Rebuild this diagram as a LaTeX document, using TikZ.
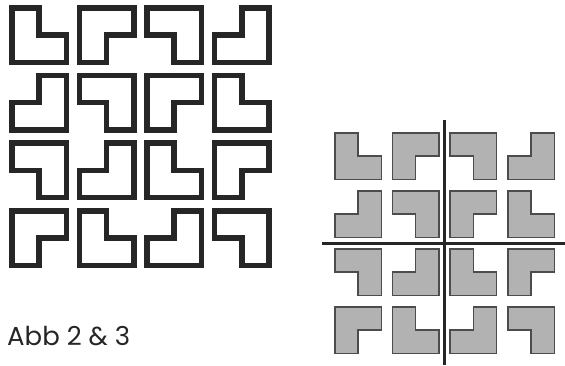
\documentclass[tikz,border=0pt]{standalone}
\usepackage{fontspec}
\newfontfamily\abbfont{Poppins}
\begin{document}
\begin{tikzpicture}[
        x=1pt, y=-1pt,
        framepiece/.style={draw=black!85, line width=5.5pt, line join=miter},
        graypiece/.style={draw=black!70, fill=black!30, line width=1.5pt, line join=miter},
        crossline/.style={draw=black!85, line width=3pt},
        abbtext/.style={anchor=base west, inner sep=0pt, text=black!85, font=\abbfont\fontsize{26}{30}\selectfont},
    ]
    \useasboundingbox (0,0) rectangle (565,365);

    % left grid, open pieces
    \foreach \ang [count=\i from 0] in {0,270,180,90, 90,180,270,0, 180,90,0,270, 270,0,90,180}{
        \pgfmathtruncatemacro{\col}{mod(\i,4)}
        \pgfmathtruncatemacro{\row}{div(\i,4)}
        \begin{scope}[shift={(39+67.6*\col,35+67.7*\row)}, rotate=\ang]
            \draw[framepiece] (-27.25,-27.25) -- (0,-27.25) -- (0,0) -- (27.25,0)
                -- (27.25,27.25) -- (-27.25,27.25) -- cycle;
        \end{scope}
    }

    % right grid, gray pieces
    \foreach \ang [count=\i from 0] in {0,270,180,90, 90,180,270,0, 180,90,0,270, 270,0,90,180}{
        \pgfmathtruncatemacro{\col}{mod(\i,4)}
        \pgfmathtruncatemacro{\row}{div(\i,4)}
        \begin{scope}[shift={(358+57.7*\col,156+58*\row)}, rotate=\ang]
            \draw[graypiece] (-23.25,-23.25) -- (0,-23.25) -- (0,0) -- (23.25,0)
                -- (23.25,23.25) -- (-23.25,23.25) -- cycle;
        \end{scope}
    }

    % cross
    \coordinate (vtop) at (444,120);
    \coordinate (vbot) at (444,365);
    \coordinate (hleft) at (322,243);
    \coordinate (hright) at (565,243);
    \draw[crossline] (vtop) -- (vbot);
    \draw[crossline] (hleft) -- (hright);

    \node[abbtext] (abb) at (7,345) {Abb 2 \& 3};
\end{tikzpicture}
\end{document}
